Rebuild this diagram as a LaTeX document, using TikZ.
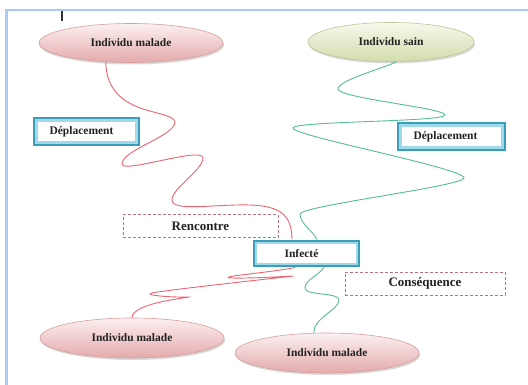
\documentclass[tikz,border=0pt]{standalone}
\usepackage{fontspec}
\setmainfont{Liberation Serif}
\usetikzlibrary{shapes.geometric,shadows,calc}

\definecolor{framebl}{RGB}{172,202,240}
\definecolor{redpath}{RGB}{236,100,112}
\definecolor{greenpath}{RGB}{84,190,150}
\definecolor{tealbox}{RGB}{58,158,184}
\definecolor{tealin}{RGB}{160,218,234}
\definecolor{dashrose}{RGB}{190,112,126}
\definecolor{pinktop}{RGB}{252,240,240}
\definecolor{pinkbot}{RGB}{228,170,172}
\definecolor{pinkedge}{RGB}{214,156,158}
\definecolor{greentop}{RGB}{247,249,236}
\definecolor{greenbot}{RGB}{210,220,172}
\definecolor{greenedge}{RGB}{188,198,152}
\definecolor{inktext}{RGB}{34,34,34}

\begin{document}
\begin{tikzpicture}[x=1pt,y=-1pt,
  every node/.style={text=inktext, font=\bfseries\fontsize{11.5}{13}\selectfont},
  ellbase/.style={ellipse, inner sep=0pt, line width=0.6pt,
    drop shadow={shadow xshift=1pt, shadow yshift=-2pt, fill=black, opacity=0.15}},
  sickell/.style={ellbase, draw=pinkedge, top color=pinktop, bottom color=pinkbot},
  sainell/.style={ellbase, draw=greenedge, top color=greentop, bottom color=greenbot},
  movebox/.style={rectangle, draw=tealbox, line width=2.4pt, fill=white,
    minimum width=104.5pt, minimum height=26.5pt, inner sep=0pt,
    path picture={\draw[tealin, line width=2.2pt]
      ($(path picture bounding box.north west)+(2.3,2.3)$) rectangle
      ($(path picture bounding box.south east)+(-2.3,-2.3)$);}},
  notebox/.style={rectangle, draw=dashrose, dashed, dash pattern=on 3pt off 2pt,
    line width=1pt, fill=white, inner sep=0pt,
    font=\bfseries\fontsize{13}{15}\selectfont},
  redline/.style={draw=redpath, line width=0.9pt},
  greenline/.style={draw=greenpath, line width=0.9pt}
]
\useasboundingbox (0,0) rectangle (528,385);

% page frame and caret
\draw[framebl, line width=2.6pt] (6.5,385) -- (6.5,10) -- (528,10);
\draw[black!80, line width=1.1pt] (62,11) -- (62,21);

% individuals
\node[sickell, minimum width=184pt, minimum height=39pt] (tl) at (131,43) {Individu malade};
\node[sainell, minimum width=166pt, minimum height=39pt] (gs) at (391,42) {Individu sain};
\node[sickell, minimum width=184pt, minimum height=40pt] (bl) at (132,338) {Individu malade};
\node[sickell, minimum width=184pt, minimum height=40pt] (br) at (327,353) {Individu malade};

% central box
\node[movebox, minimum width=105pt, minimum height=25.5pt] (inf) at (306.5,253.5) {Infecté\kern10pt};

% end points of the paths on the central box
\coordinate (r1end) at ($(inf.north)+(-14.5,0)$);
\coordinate (r2start) at ($(inf.south)+(-11.5,0)$);
\coordinate (g1end) at ($(inf.north)+(10.5,0)$);
\coordinate (g2start) at ($(inf.south)+(17.5,0)$);

% sick individual wandering to the meeting point
\draw[redline] (tl.217)
  .. controls (107,118) and (172,108) .. (175,122)
  .. controls (175,136) and (122,150) .. (122,164)
  .. controls (122,174) and (203,146) .. (203,158)
  .. controls (203,170) and (172,188) .. (172,200)
  .. controls (172,212) and (215,204) .. (250,205)
  .. controls (280,206) and (292,215) .. (r1end);

% healthy individual wandering to the meeting point
\draw[greenline] (gs.285)
  .. controls (385,68) and (338,80) .. (338,89)
  .. controls (338,98) and (445,108) .. (445,115)
  .. controls (445,122) and (293,121) .. (293,128)
  .. controls (293,136) and (464,168) .. (464,178)
  .. controls (464,186) and (300,206) .. (300,214)
  .. controls (300,224) and (314,232) .. (g1end);

% both leave as sick individuals
\draw[redline] (r2start)
  .. controls (280,271) and (236,275) .. (229,277)
  .. controls (222,279) and (260,278) .. (293,276)
  .. controls (300,275.5) and (165,290) .. (152,293)
  .. controls (142,295.5) and (175,297.5) .. (188,297)
  .. controls (196,297) and (132,302) .. (bl.north);

\draw[greenline] (g2start)
  .. controls (318,276) and (305,280) .. (305,288)
  .. controls (305,296) and (339,292) .. (339,300)
  .. controls (339,310) and (313,318) .. (br.123);

% labels
\node[movebox] (dl) at (86.5,131.5) {Déplacement\kern10pt};
\node[movebox, minimum width=106.5pt] (dr) at (451.5,136.5) {Déplacement\kern12pt};
\node[notebox, minimum width=155pt, minimum height=23pt] (ren) at (200.5,226.5) {Rencontre};
\node[notebox, minimum width=160pt, minimum height=23pt] (cons) at (425,283.5) {Conséquence};
\end{tikzpicture}
\end{document}
